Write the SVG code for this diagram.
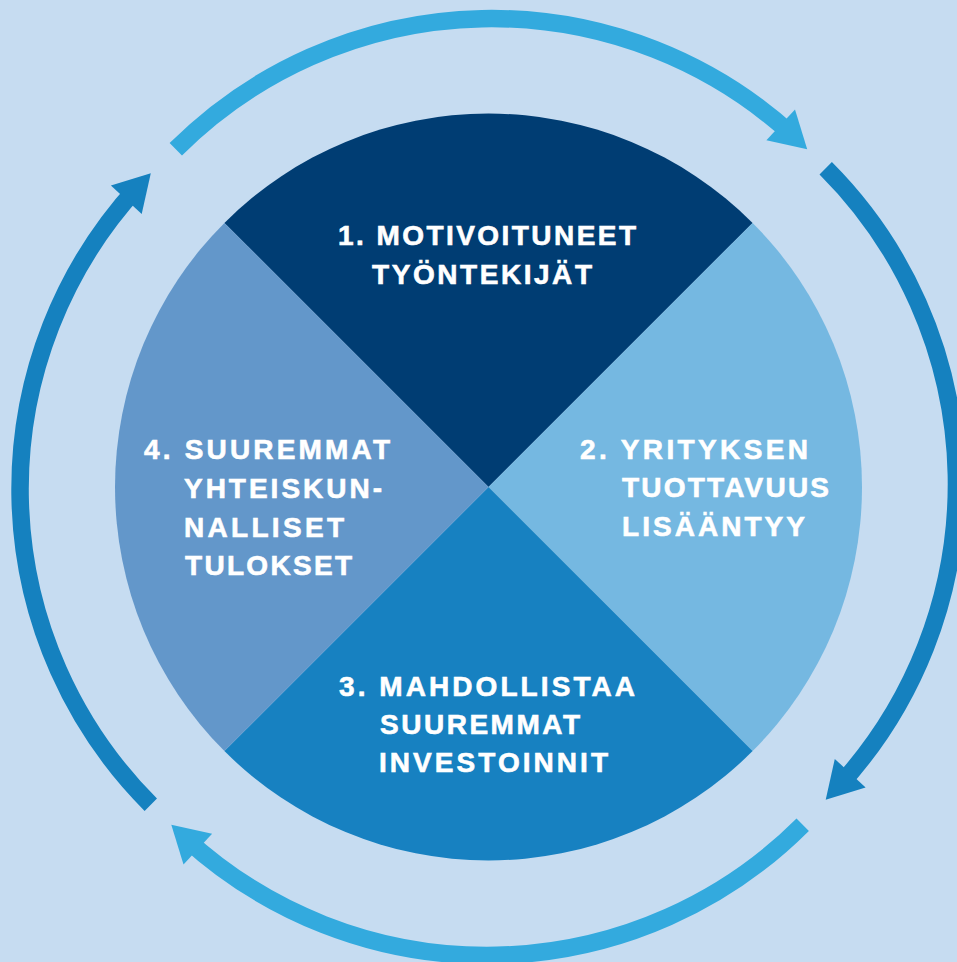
<svg xmlns="http://www.w3.org/2000/svg" width="957" height="962" viewBox="0 0 957 962">
  <style>
    .lbl { font-family: "Liberation Sans", Arial, sans-serif; font-weight: bold; font-size: 28px; fill: #FFFFFF; stroke: #FFFFFF; stroke-width: 0.6px; }
    .arc { fill: none; stroke-width: 17.5; stroke-linecap: butt; }
    .light { stroke: #33AADE; }
    .dark { stroke: #1581BF; }
    .headL { fill: #33AADE; }
    .headD { fill: #1581BF; }
  </style>
  <rect x="0" y="0" width="957" height="962" fill="#C6DCF1"/>

  <g id="node-1">
    <path d="M488.5,487 L224.4,222.9 A373.5,373.5 0 0 1 752.6,222.9 Z" fill="#003D73"/>
    <text class="lbl" x="338" y="245" textLength="298" lengthAdjust="spacing">1. MOTIVOITUNEET</text>
    <text class="lbl" x="372" y="284" textLength="220" lengthAdjust="spacing">TYÖNTEKIJÄT</text>
  </g>

  <g id="node-2">
    <path d="M488.5,487 L752.6,222.9 A373.5,373.5 0 0 1 752.6,751.1 Z" fill="#75B8E1"/>
    <text class="lbl" x="580" y="459" textLength="228" lengthAdjust="spacing">2. YRITYKSEN</text>
    <text class="lbl" x="622" y="497" textLength="207" lengthAdjust="spacing">TUOTTAVUUS</text>
    <text class="lbl" x="622" y="536" textLength="183" lengthAdjust="spacing">LISÄÄNTYY</text>
  </g>

  <g id="node-3">
    <path d="M488.5,487 L752.6,751.1 A373.5,373.5 0 0 1 224.4,751.1 Z" fill="#1781C1"/>
    <text class="lbl" x="339" y="696" textLength="296" lengthAdjust="spacing">3. MAHDOLLISTAA</text>
    <text class="lbl" x="380" y="734" textLength="200" lengthAdjust="spacing">SUUREMMAT</text>
    <text class="lbl" x="379" y="772" textLength="229" lengthAdjust="spacing">INVESTOINNIT</text>
  </g>

  <g id="node-4">
    <path d="M488.5,487 L224.4,751.1 A373.5,373.5 0 0 1 224.4,222.9 Z" fill="#6397CA"/>
    <text class="lbl" x="144" y="459" textLength="246" lengthAdjust="spacing">4. SUUREMMAT</text>
    <text class="lbl" x="184" y="498" textLength="198" lengthAdjust="spacing">YHTEISKUN-</text>
    <text class="lbl" x="184" y="537" textLength="160" lengthAdjust="spacing">NALLISET</text>
    <text class="lbl" x="185" y="575" textLength="167" lengthAdjust="spacing">TULOKSET</text>
  </g>

  <g id="connectors">
    <path class="arc light" d="M175.8,149.3 A446.5,446.5 0 0 1 793.1,135.8"/>
    <polygon class="headL" points="807.2,149.3 795.0,109.4 766.4,140.2"/>

    <path class="arc dark" d="M825.7,168.3 A446.5,446.5 0 0 1 839.2,785.6"/>
    <polygon class="headD" points="825.7,799.7 865.6,787.5 834.8,758.9"/>

    <path class="arc light" d="M802.7,824.7 A446.5,446.5 0 0 1 185.4,838.2"/>
    <polygon class="headL" points="171.3,824.7 183.5,864.6 212.1,833.8"/>

    <path class="arc dark" d="M150.8,804.7 A446.5,446.5 0 0 1 137.3,187.4"/>
    <polygon class="headD" points="150.8,173.3 110.9,185.5 141.7,214.1"/>
  </g>
</svg>
